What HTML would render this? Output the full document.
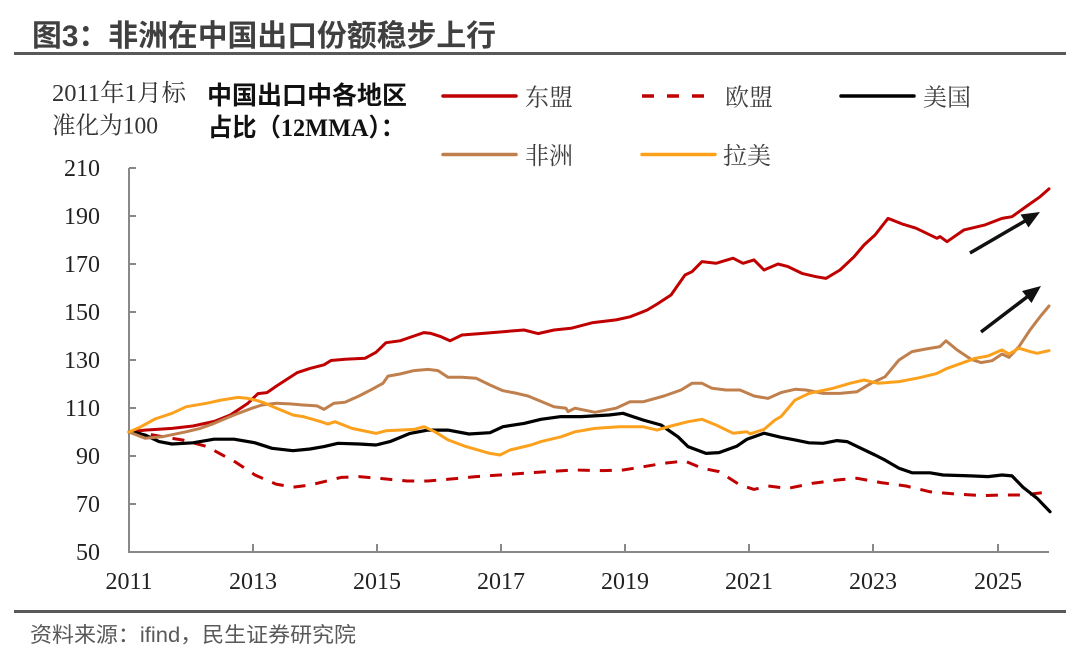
<!DOCTYPE html>
<html>
<head>
<meta charset="utf-8">
<style>
  html,body{margin:0;padding:0;background:#fff;}
  svg{display:block;}
  .serif{font-family:"Liberation Serif","Noto Serif CJK SC",serif;}
  .sans{font-family:"Liberation Sans","Noto Sans CJK SC",sans-serif;}
</style>
</head>
<body>
<svg width="1080" height="657" viewBox="0 0 1080 657" xmlns="http://www.w3.org/2000/svg">
  <rect width="1080" height="657" fill="#fff"/>

  <!-- Title -->
  <text x="32" y="46" class="sans" font-size="30" font-weight="bold" fill="#404040" textLength="464" lengthAdjust="spacingAndGlyphs">图3：非洲在中国出口份额稳步上行</text>
  <line x1="14" y1="53.5" x2="1066" y2="53.5" stroke="#595959" stroke-width="3"/>

  <!-- Header texts -->
  <text x="52" y="101" class="serif" font-size="24" fill="#333" textLength="134" lengthAdjust="spacingAndGlyphs">2011年1月标</text>
  <text x="52" y="133.5" class="serif" font-size="24" fill="#333" textLength="106" lengthAdjust="spacingAndGlyphs">准化为100</text>
  <text x="207" y="104" font-family="'Liberation Serif','Noto Sans CJK SC',sans-serif" font-size="25" font-weight="bold" fill="#111" textLength="200" lengthAdjust="spacingAndGlyphs">中国出口中各地区</text>
  <text x="208" y="136" font-family="'Liberation Serif','Noto Sans CJK SC',sans-serif" font-size="25" font-weight="bold" fill="#111" textLength="197" lengthAdjust="spacingAndGlyphs">占比（12MMA）：</text>

  <!-- Legend -->
  <g stroke-linecap="round" fill="none">
    <line x1="443" y1="96" x2="516" y2="96" stroke="#C00000" stroke-width="3.5"/>
    <line x1="642" y1="96" x2="704" y2="96" stroke="#C00000" stroke-width="3.5" stroke-dasharray="12 13" stroke-linecap="butt"/>
    <line x1="841" y1="96" x2="914" y2="96" stroke="#000" stroke-width="3.5"/>
    <line x1="443" y1="154.5" x2="516" y2="154.5" stroke="#C0804E" stroke-width="3.5"/>
    <line x1="642" y1="154.5" x2="715" y2="154.5" stroke="#FCA11D" stroke-width="3.5"/>
  </g>
  <g class="serif" font-size="24" fill="#404040">
    <text x="525" y="105.5">东盟</text>
    <text x="725" y="105.5">欧盟</text>
    <text x="923" y="105.5">美国</text>
    <text x="525" y="164">非洲</text>
    <text x="723" y="164">拉美</text>
  </g>

  <!-- Axes -->
  <g stroke="#888" stroke-width="2" fill="none">
    <line x1="129" y1="168" x2="129" y2="553"/>
    <line x1="128" y1="552" x2="1049" y2="552"/>
    <!-- y ticks -->
    <line x1="129" y1="168" x2="136" y2="168"/>
    <line x1="129" y1="216" x2="136" y2="216"/>
    <line x1="129" y1="264" x2="136" y2="264"/>
    <line x1="129" y1="312" x2="136" y2="312"/>
    <line x1="129" y1="360" x2="136" y2="360"/>
    <line x1="129" y1="408" x2="136" y2="408"/>
    <line x1="129" y1="456" x2="136" y2="456"/>
    <line x1="129" y1="504" x2="136" y2="504"/>
    <!-- x ticks -->
    <line x1="253" y1="544" x2="253" y2="552"/>
    <line x1="377" y1="544" x2="377" y2="552"/>
    <line x1="501" y1="544" x2="501" y2="552"/>
    <line x1="625" y1="544" x2="625" y2="552"/>
    <line x1="749" y1="544" x2="749" y2="552"/>
    <line x1="873" y1="544" x2="873" y2="552"/>
    <line x1="998" y1="544" x2="998" y2="552"/>
  </g>

  <!-- Y labels -->
  <g class="serif" font-size="24" fill="#222" text-anchor="end">
    <text x="100" y="176">210</text>
    <text x="100" y="224">190</text>
    <text x="100" y="272">170</text>
    <text x="100" y="320">150</text>
    <text x="100" y="368">130</text>
    <text x="100" y="416">110</text>
    <text x="100" y="464">90</text>
    <text x="100" y="512">70</text>
    <text x="100" y="560">50</text>
  </g>
  <!-- X labels -->
  <g class="serif" font-size="24" fill="#222" text-anchor="middle">
    <text x="129" y="589">2011</text>
    <text x="253" y="589">2013</text>
    <text x="377" y="589">2015</text>
    <text x="501" y="589">2017</text>
    <text x="625" y="589">2019</text>
    <text x="749" y="589">2021</text>
    <text x="873" y="589">2023</text>
    <text x="998" y="589">2025</text>
  </g>

  <!-- Series -->
  <g fill="none" stroke-width="3" stroke-linejoin="round" stroke-linecap="round">
    <!-- 东盟 -->
    <polyline stroke="#C00000" points="129,432 145,430.1 172,428.4 193,426 215,421.2 230,415.2 248,403.2 258,393.6 267,392.6 276,386.4 297,372.7 310,368.4 324,364.8 331,360.5 345,359.3 365,358.3 376,352.3 386,342.7 400,340.8 414,336 424,332.6 431,333.4 441,336.7 450,340.8 462,335 483,333.4 503,331.7 524,330 538,333.6 554,330 571,328.3 592,322.8 616,319.9 630,316.8 647,310.1 657,304.1 671,295 685,275 692,271.7 702,261.6 716,263.3 733,258.2 743,263.3 754,259.9 764,270 778,264 788,266.6 802,273.4 816,276.7 826,278.4 840,270 854,256.8 864,245 875,235 888,218.4 902,223.9 916,228.2 937,238.3 940,236.6 947,241.7 964,229.9 985,224.9 1002,218.4 1012,216.7 1026,206.6 1040,196.8 1049,188.9"/>
    <!-- 欧盟 -->
    <polyline stroke="#C00000" stroke-dasharray="12 10" stroke-linecap="butt" points="129,432 150,434.4 170,438 183,440.1 207,446.6 235,461.8 255,475 276,484.1 293,487.2 310,485 324,481.7 341,477.4 359,476.6 379,478.3 407,481 428,481 448,479.3 476,476.6 500,475 540,472.1 575,470 602,470.6 623,470 643,466.8 664,463.2 685,461 702,468.2 719,471.6 740,485 754,489.4 768,486 788,488.4 812,483.4 837,480 857,478.3 881,482.6 906,486 930,491.8 954,493.9 981,495.6 1002,495 1023,495 1050,491.8"/>
    <!-- 美国 -->
    <polyline stroke="#000" stroke-width="3.2" points="129,432 133,432 145,435 159,441.6 172,444 193,442.8 214,439.2 234,439.2 255,442.8 272,448.3 293,450.7 310,449 324,446.6 338,443.3 359,444 376,445 390,441.6 410,433.4 428,430.1 448,430.1 469,434 490,432.7 503,426.7 524,423.4 541,419.3 561,416.6 581,416.6 609,415 623,413.3 643,420 661,425 678,436.8 688,446.6 706,453.4 719,452.6 737,446.1 747,439.2 764,433.2 781,437.3 795,439.9 809,442.8 823,443.3 837,440.6 847,441.6 861,448.3 875,455 885,460.1 899,468.2 912,472.8 930,472.8 943,475 971,475.9 988,476.6 1002,475 1012,475.9 1023,487.2 1037,498.2 1050,511.7"/>
    <!-- 非洲 -->
    <polyline stroke="#C0804E" points="129,432 145,438.2 162,436.8 186,431.8 200,428.4 214,423.4 234,415 252,408.2 262,405 276,403.2 290,403.9 303,405 317,405.9 324,409.4 334,403.2 345,402.2 359,396 372,389.3 383,383.3 388,376.1 400,374 414,370.6 428,369.4 438,370.6 448,377.3 462,377.3 476,378.2 490,385 503,390.7 517,393.4 528,396 538,400.1 554,406.8 566,408.2 568,411.6 575,408.2 595,412.3 616,408.2 630,401.8 643,401.8 664,396 681,390 692,383.3 702,383.3 712,388.3 726,390 740,390 754,396 768,398.4 781,392.6 795,389.3 806,390 823,393.4 840,393.4 857,391.7 871,383.3 885,376.8 899,360 912,351.6 926,349 940,346.6 946,340.8 957,349.9 971,359.3 981,362.6 992,360.7 1002,354 1009,357.4 1019,346.6 1030,330 1040,316.8 1049,306"/>
    <!-- 拉美 -->
    <polyline stroke="#FCA11D" points="129,432 140,427.2 155,419 172,413.3 186,406.8 207,403.2 221,400.1 238,397.4 248,398.4 258,400.8 265,403.2 276,408 293,415 303,416.6 321,421.7 328,424.1 335,421.7 352,428.4 376,433.4 386,430.8 414,429.4 424,426.7 435,431.8 448,439.9 466,446.6 490,453.4 500,455 510,450 531,445 541,441.6 561,436.8 575,431.8 595,428.4 619,426.7 643,426.7 657,430.1 671,426 688,421.7 702,419.3 716,425 733,433.2 747,431.8 750,433.9 764,429.4 775,420 781,416.6 795,400.1 809,393.4 833,388.3 850,383.3 864,380 878,383.3 899,381.6 919,377.8 937,373.4 947,368.4 961,363.4 975,358.3 988,356 1002,349.9 1009,354 1019,348.2 1030,351.6 1037,353.3 1049,350.6"/>
  </g>

  <!-- Arrows -->
  <g stroke="#111" stroke-width="3.5" fill="#111">
    <line x1="970" y1="253" x2="1025" y2="221" />
    <polygon stroke="none" points="1040,212 1028.5,227.5 1020.5,214.5"/>
    <line x1="981" y1="332" x2="1027" y2="297" />
    <polygon stroke="none" points="1041,286 1031.5,303 1022,291"/>
  </g>

  <!-- Bottom rule and source -->
  <line x1="14" y1="611.5" x2="1066" y2="611.5" stroke="#595959" stroke-width="3"/>
  <text x="30" y="642" class="sans" font-size="21" fill="#595959" textLength="326" lengthAdjust="spacingAndGlyphs">资料来源：ifind，民生证券研究院</text>
</svg>
</body>
</html>
